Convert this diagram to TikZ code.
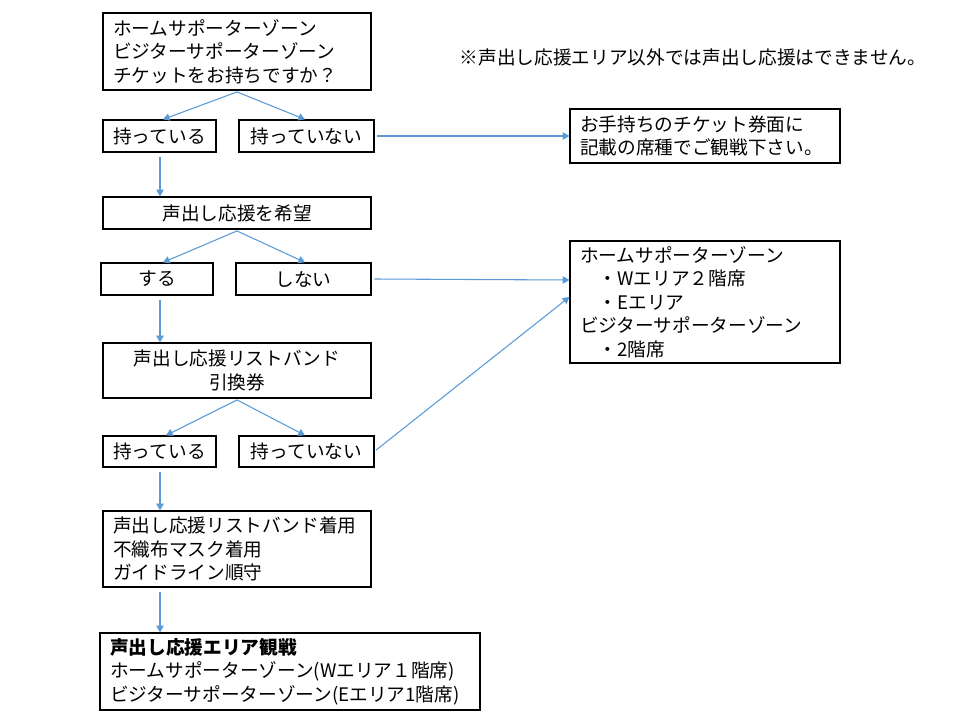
\documentclass[tikz,border=0pt]{standalone}
\usepackage{fontspec}
\setmainfont{Noto Sans CJK JP}
\usetikzlibrary{arrows.meta}
\definecolor{arrowblue}{HTML}{5B9BD5}
\newcommand\mybox[8]{%
  \pgfmathsetmacro\bw{(#4-#2)*0.75}%
  \pgfmathsetmacro\bh{(#5-#3)*0.75}%
  \pgfmathsetmacro\tw{(#4-#2-#7)*0.75}%
  \node[boxst,#6,minimum width=\bw pt,minimum height=\bh pt,text width=\tw pt] (#1) at ({(#2+#4)/2},{(#3+#5)/2}) {#8};}
\begin{document}
\begin{tikzpicture}[x=0.75pt,y=-0.75pt,
  boxst/.style={draw=black,line width=0.9pt,inner xsep=0pt,inner ysep=0pt,
    font=\fontsize{14pt}{17.6pt}\selectfont},
  arr/.style={draw=arrowblue,line width=0.8pt,-{Triangle[width=5.5pt,length=5pt]}}]
\useasboundingbox[fill=white] (0,0) rectangle (960,720);
\mybox{b1}{103}{13}{371}{90}{align=left}{20}{ホームサポーターゾーン\\ビジターサポーターゾーン\\チケットをお持ちですか？}
\mybox{h1}{103}{120}{216}{152}{align=center}{0}{持っている}
\mybox{n1}{239}{120}{374}{152}{align=center}{0}{持っていない}
\mybox{r1}{570}{109}{840}{163}{align=left}{20}{お手持ちのチケット券面に\\記載の席種でご観戦下さい。}
\mybox{w}{103}{197}{371}{229}{align=center}{0}{声出し応援を希望}
\mybox{s}{101}{263}{213}{295}{align=center}{0}{する}
\mybox{sn}{236}{263}{371}{295}{align=center}{0}{しない}
\mybox{r2}{570}{241}{840}{363}{align=left}{20}{ホームサポーターゾーン\\\hspace*{1em}・Wエリア２階席\\\hspace*{1em}・Eエリア\\ビジターサポーターゾーン\\\hspace*{1em}・2階席}
\mybox{t}{103}{343}{371}{398}{align=center}{0}{声出し応援リストバンド\\引換券}
\mybox{h2}{103}{436}{216}{467}{align=center}{0}{持っている}
\mybox{n2}{239}{436}{374}{467}{align=center}{0}{持っていない}
\mybox{g}{103}{511}{371}{587}{align=left}{20}{声出し応援リストバンド着用\\不織布マスク着用\\ガイドライン順守}
\mybox{f}{100}{633}{480}{710}{align=left}{20}{\textbf{声出し応援エリア観戦}\\ホームサポーターゾーン(Wエリア１階席)\\ビジターサポーターゾーン(Eエリア1階席)}
\node[font=\fontsize{14pt}{17.6pt}\selectfont,inner sep=0pt] (note) at (693,57) {※声出し応援エリア以外では声出し応援はできません。};
% connectors
\coordinate (b1s) at ([yshift=-1pt]b1.south);
\draw[arr] (b1s) -- (h1.north -| 163,0);
\draw[arr] (b1s) -- (n1.north -| 305,0);
\draw[arr] ([yshift=-3pt]h1.south -| 160,0) -- (w.north -| 160,0);
\draw[arr] ([xshift=2pt]n1.east) -- (r1.west |- n1.east);
\coordinate (ws) at ([yshift=-1pt]w.south);
\draw[arr] (ws) -- (s.north -| 163,0);
\draw[arr] (ws) -- (sn.north -| 305,0);
\draw[arr] ([yshift=-3pt]s.south -| 160,0) -- (t.north -| 160,0);
\draw[arr] ([xshift=2pt]sn.east) -- (r2.west |- 0,280);
\draw[arr] ([xshift=1pt,yshift=1pt]n2.east) -- (r2.west |- 0,297);
\coordinate (ts) at ([yshift=-1pt]t.south);
\draw[arr] (ts) -- (h2.north -| 166,0);
\draw[arr] (ts) -- (n2.north -| 305,0);
\draw[arr] ([yshift=-3pt]h2.south -| 160,0) -- (g.north -| 160,0);
\draw[arr] ([yshift=-3pt]g.south -| 160,0) -- (f.north -| 160,0);
\end{tikzpicture}
\end{document}
